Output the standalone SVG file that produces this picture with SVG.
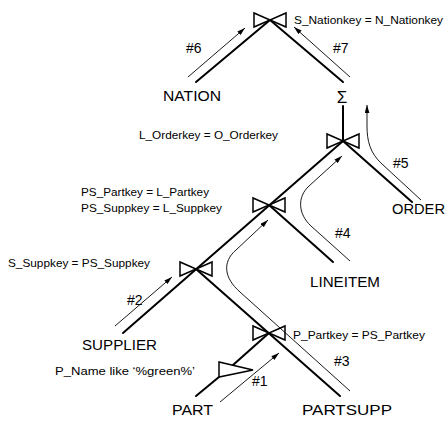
<svg xmlns="http://www.w3.org/2000/svg" width="445" height="421" viewBox="0 0 445 421">
<style>
  .bg{fill:#fff}
  .edge{stroke:#000;stroke-width:2;fill:none;stroke-linecap:round}
  .flow{stroke:#000;stroke-width:0.9;fill:none}
  .op{stroke:#000;stroke-width:1.5;fill:none;stroke-linejoin:miter}
  .sel{stroke:#000;stroke-width:1.5;fill:#fff}
  .tbl{font-family:"Liberation Sans",Arial,sans-serif;font-size:15px;fill:#000}
  .cond{font-family:"Liberation Sans",Arial,sans-serif;font-size:11.5px;fill:#000}
  .num{font-family:"Liberation Sans",Arial,sans-serif;font-size:14px;fill:#000}
</style>
<defs>
  <marker id="ah" viewBox="0 0 10 6" refX="10" refY="3" markerWidth="8" markerHeight="5" markerUnits="userSpaceOnUse" orient="auto">
    <path d="M0,0 L10,3 L0,6 Z" fill="#000"/>
  </marker>
  <path id="bow" d="M-16,-7 L-16,7 L0,0 Z M16,-7 L16,7 L0,0 Z"/>
</defs>
<rect class="bg" x="0" y="0" width="445" height="421"/>

<g id="connectors">
  <line class="edge" x1="270" y1="20" x2="196" y2="82"/>
  <line class="edge" x1="270" y1="20" x2="343" y2="82"/>
  <line class="edge" x1="343" y1="106" x2="343" y2="141"/>
  <line class="edge" x1="343" y1="141" x2="123" y2="333"/>
  <line class="edge" x1="343" y1="141" x2="412" y2="202"/>
  <line class="edge" x1="269" y1="205" x2="333" y2="262"/>
  <line class="edge" x1="196" y1="269" x2="340" y2="396"/>
  <line class="edge" x1="269" y1="333" x2="233" y2="365"/>
  <line class="edge" x1="219" y1="377" x2="196" y2="396"/>
  <!-- flow arrows -->
  <line class="flow" x1="188" y1="77" x2="245" y2="28" marker-end="url(#ah)"/>
  <line class="flow" x1="350" y1="77" x2="294" y2="27" marker-end="url(#ah)"/>
  <path class="flow" d="M421,200 L382,164 C370,153 367,141 367,126 L367,105" marker-end="url(#ah)"/>
  <path class="flow" d="M350,261 L311,226 C298,214 297,197 309,186 L342,156" marker-end="url(#ah)"/>
  <path class="flow" d="M350,391 L240,292 C224,278 222,262 236,250 L268,220" marker-end="url(#ah)"/>
  <line class="flow" x1="115" y1="326" x2="172" y2="277" marker-end="url(#ah)"/>
  <line class="flow" x1="220" y1="402" x2="279" y2="353" marker-end="url(#ah)"/>
</g>

<g id="join-nation">
  <use href="#bow" class="op" x="270" y="20"/>
  <text class="cond" x="294" y="24" textLength="149" lengthAdjust="spacingAndGlyphs">S_Nationkey = N_Nationkey</text>
</g>
<g id="join-order">
  <use href="#bow" class="op" x="343" y="141"/>
  <text class="cond" x="139" y="139" textLength="139" lengthAdjust="spacingAndGlyphs">L_Orderkey = O_Orderkey</text>
</g>
<g id="join-lineitem">
  <use href="#bow" class="op" x="269" y="205"/>
  <text class="cond" x="81" y="196" textLength="128" lengthAdjust="spacingAndGlyphs">PS_Partkey = L_Partkey</text>
  <text class="cond" x="81" y="212" textLength="141" lengthAdjust="spacingAndGlyphs">PS_Suppkey = L_Suppkey</text>
</g>
<g id="join-supplier">
  <use href="#bow" class="op" x="196" y="269"/>
  <text class="cond" x="8" y="267" textLength="142" lengthAdjust="spacingAndGlyphs">S_Suppkey = PS_Suppkey</text>
</g>
<g id="join-partsupp">
  <use href="#bow" class="op" x="269" y="333"/>
  <text class="cond" x="293" y="339" textLength="132" lengthAdjust="spacingAndGlyphs">P_Partkey = PS_Partkey</text>
</g>
<g id="select-part">
  <polygon class="sel" points="219,362 219,377 253,370"/>
  <text class="cond" x="55" y="375" textLength="140" lengthAdjust="spacingAndGlyphs">P_Name like ‘%green%’</text>
</g>
<g id="aggregate">
  <text class="tbl" x="342" y="103" text-anchor="middle" style="font-size:17px">Σ</text>
</g>

<g id="nation"><text class="tbl" x="163" y="101" textLength="58" lengthAdjust="spacingAndGlyphs">NATION</text></g>
<g id="order"><text class="tbl" x="392" y="214" textLength="53" lengthAdjust="spacingAndGlyphs">ORDER</text></g>
<g id="lineitem"><text class="tbl" x="310" y="287" textLength="70" lengthAdjust="spacingAndGlyphs">LINEITEM</text></g>
<g id="supplier"><text class="tbl" x="82" y="350" textLength="75" lengthAdjust="spacingAndGlyphs">SUPPLIER</text></g>
<g id="part"><text class="tbl" x="172" y="415" textLength="41" lengthAdjust="spacingAndGlyphs">PART</text></g>
<g id="partsupp"><text class="tbl" x="302" y="415" textLength="90" lengthAdjust="spacingAndGlyphs">PARTSUPP</text></g>

<g id="flow-labels">
  <text class="num" x="186" y="53">#6</text>
  <text class="num" x="333" y="53">#7</text>
  <text class="num" x="393" y="168">#5</text>
  <text class="num" x="335" y="238">#4</text>
  <text class="num" x="127" y="305">#2</text>
  <text class="num" x="334" y="366">#3</text>
  <text class="num" x="252" y="386">#1</text>
</g>
</svg>
